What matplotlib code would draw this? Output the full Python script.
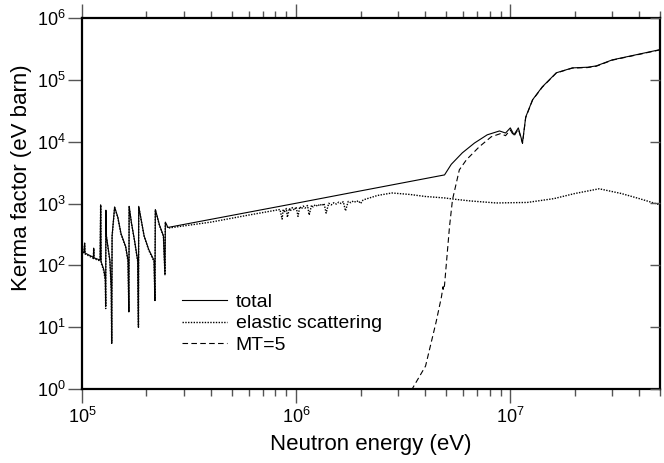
import matplotlib
matplotlib.use("Agg")
import matplotlib.pyplot as plt
from matplotlib.ticker import LogLocator, NullLocator

plt.rcParams['font.family'] = ['Liberation Sans', 'DejaVu Sans']
plt.rcParams['mathtext.fontset'] = 'custom'
plt.rcParams['mathtext.rm'] = 'Liberation Sans'

# ---------------- data ----------------
total_E = [1.00e5, 1.02e5, 1.029e5, 1.033e5, 1.13e5, 1.134e5, 1.138e5, 1.215e5, 1.222e5,
           1.228e5, 1.265e5, 1.285e5, 1.29e5, 1.293e5, 1.30e5, 1.35e5, 1.37e5, 1.376e5,
           1.382e5, 1.42e5, 1.47e5, 1.52e5, 1.60e5, 1.64e5, 1.655e5, 1.66e5, 1.70e5,
           1.76e5, 1.82e5, 1.835e5, 1.84e5, 1.88e5, 1.95e5, 2.05e5, 2.17e5, 2.19e5,
           2.20e5, 2.30e5, 2.40e5, 2.44e5, 2.45e5, 2.52e5, 1.0e6, 2.0e6, 4.93e6,
           5.3e6, 5.97e6, 6.8e6, 7.8e6, 8.9e6, 9.5e6, 1.0e7, 1.04e7, 1.09e7, 1.14e7,
           1.18e7, 1.27e7, 1.41e7, 1.64e7, 1.95e7, 2.3e7, 2.52e7, 2.99e7, 5.0e7]
total_K = [165, 160, 230, 158, 135, 190, 132, 122, 950,
           115, 85, 60, 22, 780, 300, 120, 40, 5.5,
           300, 880, 600, 330, 200, 120, 17.6, 900, 500,
           250, 120, 10, 900, 600, 300, 180, 120, 27,
           800, 450, 300, 70, 500, 410, 1010, 1600, 2900,
           4300, 6600, 9500, 12900, 14900, 13800, 16700, 12900, 16700, 9600,
           25000, 47500, 77000, 130000, 156000, 160000, 168000, 210000, 308000]

elastic_E = [1.00e5, 1.02e5, 1.029e5, 1.033e5, 1.13e5, 1.134e5, 1.138e5, 1.215e5, 1.222e5,
             1.228e5, 1.265e5, 1.285e5, 1.29e5, 1.293e5, 1.30e5, 1.35e5, 1.37e5, 1.376e5,
             1.382e5, 1.42e5, 1.47e5, 1.52e5, 1.60e5, 1.64e5, 1.655e5, 1.66e5, 1.70e5,
             1.76e5, 1.82e5, 1.835e5, 1.84e5, 1.88e5, 1.95e5, 2.05e5, 2.17e5, 2.19e5,
             2.20e5, 2.30e5, 2.40e5, 2.44e5, 2.45e5, 2.52e5, 4.0e5, 6.0e5,
             8.4e5, 8.6e5, 8.7e5, 8.8e5, 9.0e5, 9.1e5, 9.3e5, 9.4e5, 9.6e5, 9.8e5,
             1.0e6, 1.02e6, 1.04e6, 1.06e6, 1.08e6, 1.1e6, 1.13e6, 1.15e6, 1.18e6, 1.2e6,
             1.23e6, 1.26e6, 1.29e6, 1.32e6, 1.35e6, 1.38e6, 1.42e6, 1.46e6, 1.5e6, 1.54e6,
             1.58e6, 1.62e6, 1.66e6, 1.7e6, 1.75e6, 1.8e6, 1.85e6, 1.9e6, 1.95e6, 2.0e6,
             2.05e6, 2.1e6, 2.4e6, 2.8e6, 3.4e6, 4.0e6, 4.93e6, 5.4e6, 6.5e6, 8.6e6,
             1.2e7, 1.6e7, 2.0e7, 2.6e7, 3.3e7, 4.0e7, 5.0e7]
elastic_K = [160, 155, 225, 153, 130, 185, 128, 118, 940,
             110, 80, 55, 20, 770, 290, 115, 38, 5.5,
             290, 860, 590, 320, 195, 115, 17.6, 890, 490,
             245, 115, 10, 890, 590, 295, 175, 115, 27,
             790, 440, 295, 70, 490, 400, 500, 650,
             800, 560, 810, 720, 830, 600, 840, 760, 860, 780,
             880, 620, 890, 820, 910, 840, 930, 650, 940, 880,
             960, 900, 980, 920, 1000, 700, 1010, 950, 1030, 980,
             1050, 1000, 1070, 760, 1080, 1030, 1100, 1050, 1110, 1000,
             1130, 1170, 1350, 1480, 1400, 1300, 1230, 1180, 1100, 1020,
             1040, 1200, 1450, 1730, 1450, 1200, 950]

mt5_E = [3.45e6, 4.02e6, 4.5e6, 4.77e6, 4.85e6, 4.88e6, 4.93e6, 5.2e6, 5.37e6, 5.78e6,
         6.24e6, 7.17e6, 8.15e6, 9.0e6, 9.5e6, 1.0e7, 1.04e7, 1.09e7, 1.14e7, 1.18e7,
         1.27e7, 1.41e7, 1.64e7, 1.95e7, 2.3e7, 2.52e7, 2.99e7, 5.0e7]
mt5_K = [0.95, 2.35, 12, 31, 45, 40, 48, 420, 1150, 3500,
         5100, 8300, 12000, 13500, 12500, 15500, 12300, 16000, 9400, 24500,
         47000, 76000, 129000, 155000, 158000, 166000, 208000, 305000]

legend_labels = ["total", "elastic scattering", "MT=5"]

# ---------------- plot ----------------
fig = plt.figure(figsize=(6.64, 4.63), dpi=100)
ax = fig.add_axes([82/664, 1-389/463, (660-82)/664, (389-18)/463])

ax.plot(total_E, total_K, color='black', lw=0.8, ls='-', label=legend_labels[0])
ax.plot(elastic_E, elastic_K, color='black', lw=1.0, ls=(0, (1, 1)), label=legend_labels[1])
ax.plot(mt5_E, mt5_K, color='black', lw=0.8, ls=(0, (5, 3)), label=legend_labels[2])

ax.set_xscale('log')
ax.set_yscale('log')
ax.set_xlim(1e5, 5e7)
ax.set_ylim(1, 1e6)

ax.xaxis.set_major_locator(LogLocator(base=10, numticks=10))
ax.xaxis.set_minor_locator(LogLocator(base=10, subs=range(2, 10), numticks=20))
ax.yaxis.set_major_locator(LogLocator(base=10, numticks=10))
ax.yaxis.set_minor_locator(NullLocator())

for s in ax.spines.values():
    s.set_linewidth(1.6)
    s.set_color('black')

ax.tick_params(axis='x', which='both', direction='out', top=True, bottom=True,
               color='#555555', labelsize=13, pad=3)
ax.tick_params(axis='x', which='major', length=10, width=1)
ax.tick_params(axis='x', which='minor', length=5, width=1)
ax.tick_params(axis='y', which='major', direction='out', left=True, right=False,
               length=10, width=1, color='#555555', labelsize=13, pad=2)

axr = ax.twinx()
axr.set_yscale('log')
axr.set_ylim(1, 1e6)
axr.yaxis.set_major_locator(LogLocator(base=10, numticks=10))
axr.yaxis.set_minor_locator(NullLocator())
axr.tick_params(axis='y', which='major', direction='in', length=7, width=1,
                color='#555555', labelright=False)
for s in axr.spines.values():
    s.set_visible(False)

ax.set_xlabel("Neutron energy (eV)", fontsize=16, labelpad=5)
ax.set_ylabel("Kerma factor (eV barn)", fontsize=16)
ax.yaxis.set_label_coords(-0.086, 0.57)

ax.legend(loc='upper left', bbox_to_anchor=(0.16, 0.28), frameon=False,
          fontsize=14, handlelength=2.3, handletextpad=0.45, labelspacing=0.22,
          borderaxespad=0)

fig.savefig("out.png", dpi=100)
